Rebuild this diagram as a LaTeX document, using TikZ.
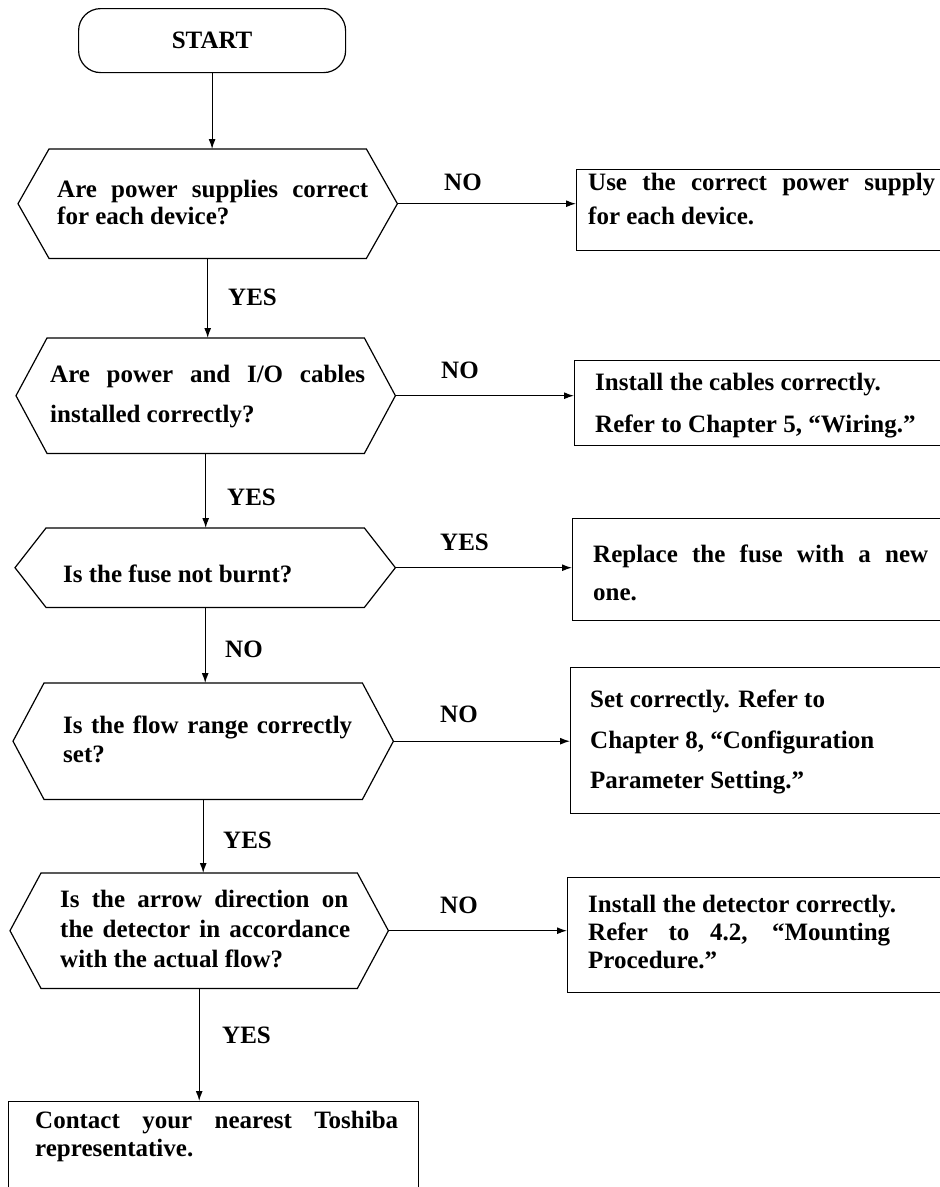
\documentclass[tikz,border=0pt]{standalone}
\usepackage{fontspec}
\setmainfont{Liberation Serif}
\usetikzlibrary{arrows.meta}
\newcommand\hexof[1]{\draw[outline] (#1.west) -- ([xshift=31pt]#1.north west) -- ([xshift=-31pt]#1.north east) -- (#1.east) -- ([xshift=-31pt]#1.south east) -- ([xshift=31pt]#1.south west) -- cycle;}
\begin{document}
\begin{tikzpicture}[x=1pt,y=-1pt,
  outline/.style={draw=black,line width=1.2pt,line join=miter},
  decbox/.style={draw=none,inner sep=0pt,anchor=north west},
  procbox/.style={outline,inner sep=0pt,anchor=north west},
  startbox/.style={outline,rounded corners=22pt,inner sep=0pt,anchor=north west,
    font=\fontsize{25}{28}\selectfont\bfseries},
  txt/.style={inner sep=0pt,anchor=base west,font=\fontsize{25}{28}\selectfont\bfseries},
  lbl/.style={inner sep=0pt,anchor=base west,font=\fontsize{25}{28}\selectfont\bfseries},
  arr/.style={line width=1.2pt,-{Latex[length=10pt,width=7pt]}}]
\path[use as bounding box] (0,0) rectangle (940,1187);
\clip (0,0) rectangle (940,1187);
\fill[white] (0,0) rectangle (940,1187);

% start
\node[startbox,minimum width=267pt,minimum height=64pt] (start) at (78,8) {START};

% decisions
\node[decbox,minimum width=379pt,minimum height=109pt] (d1) at (18,149) {};
\node[decbox,minimum width=379pt,minimum height=115pt] (d2) at (16,338) {};
\node[decbox,minimum width=380pt,minimum height=79pt] (d3) at (15,528) {};
\node[decbox,minimum width=380pt,minimum height=116pt] (d4) at (13,683) {};
\node[decbox,minimum width=378pt,minimum height=115pt] (d5) at (10,873) {};
\hexof{d1}\hexof{d2}\hexof{d3}\hexof{d4}\hexof{d5}

% process boxes
\node[procbox,minimum width=384pt,minimum height=81pt] (b1) at (576,169) {};
\node[procbox,minimum width=386pt,minimum height=85pt] (b2) at (574,360) {};
\node[procbox,minimum width=388pt,minimum height=102pt] (b3) at (572,518) {};
\node[procbox,minimum width=390pt,minimum height=146pt] (b4) at (570,667) {};
\node[procbox,minimum width=393pt,minimum height=115pt] (b5) at (567,877) {};
\node[procbox,minimum width=410pt,minimum height=110pt] (b6) at (8,1101) {};

% decision texts
\node[txt] (t1a) at (57,197) {\makebox[311pt][s]{Are power supplies correct}};
\node[txt] (t1b) at (57,224) {for each device?};
\node[txt] (t2a) at (50,382) {\makebox[315pt][s]{Are power and I/O cables}};
\node[txt] (t2b) at (50,422) {installed correctly?};
\node[txt] (t3a) at (63,582) {Is the fuse not burnt?};
\node[txt] (t4a) at (63,733) {\makebox[289pt][s]{Is the flow range correctly}};
\node[txt] (t4b) at (63,762) {set?};
\node[txt] (t5a) at (60,907) {\makebox[288pt][s]{Is the arrow direction on}};
\node[txt] (t5b) at (60,937) {\makebox[290pt][s]{the detector in accordance}};
\node[txt] (t5c) at (60,967) {with the actual flow?};

% box texts
\node[txt] (u1a) at (588,190) {\makebox[347pt][s]{Use the correct power supply}};
\node[txt] (u1b) at (588,224) {for each device.};
\node[txt] (u2a) at (595,390) {Install the cables correctly.};
\node[txt] (u2b) at (595,432) {Refer to Chapter 5, “Wiring.”};
\node[txt] (u3a) at (593,562) {\makebox[335pt][s]{Replace the fuse with a new}};
\node[txt] (u3b) at (593,600) {one.};
\node[txt] (u4a) at (590,707) {Set correctly. Refer to};
\node[txt] (u4b) at (590,748) {Chapter 8, “Configuration};
\node[txt] (u4c) at (590,788) {Parameter Setting.”};
\node[txt] (u5a) at (588,912) {Install the detector correctly.};
\node[txt] (u5b) at (588,940) {\makebox[302pt][s]{Refer to 4.2, “Mounting}};
\node[txt] (u5c) at (588,968) {Procedure.”};
\node[txt] (u6a) at (35,1128) {\makebox[363pt][s]{Contact your nearest Toshiba}};
\node[txt] (u6b) at (35,1156) {representative.};

% connectors
\draw[arr] (start.south) -- (start.south |- d1.north);
\draw[arr] (d1.south) -- (d1.south |- d2.north);
\draw[arr] (d2.south) -- (d2.south |- d3.north);
\draw[arr] (d3.south) -- (d3.south |- d4.north);
\draw[arr] (d4.south) -- (d4.south |- d5.north);
\draw[arr] (d5.south) -- (d5.south |- b6.north);
\draw[arr] (d1.east) -- (d1.east -| b1.west);
\draw[arr] (d2.east) -- (d2.east -| b2.west);
\draw[arr] (d3.east) -- (d3.east -| b3.west);
\draw[arr] (d4.east) -- (d4.east -| b4.west);
\draw[arr] (d5.east) -- (d5.east -| b5.west);

% labels
\node[lbl] (n1) at (444,190) {NO};
\node[lbl] (y1) at (228,305) {YES};
\node[lbl] (n2) at (441,378) {NO};
\node[lbl] (y2) at (227,505) {YES};
\node[lbl] (y3) at (440,550) {YES};
\node[lbl] (n3) at (225,657) {NO};
\node[lbl] (n4) at (440,722) {NO};
\node[lbl] (y4) at (223,848) {YES};
\node[lbl] (n5) at (440,913) {NO};
\node[lbl] (y5) at (222,1043) {YES};
\end{tikzpicture}
\end{document}
